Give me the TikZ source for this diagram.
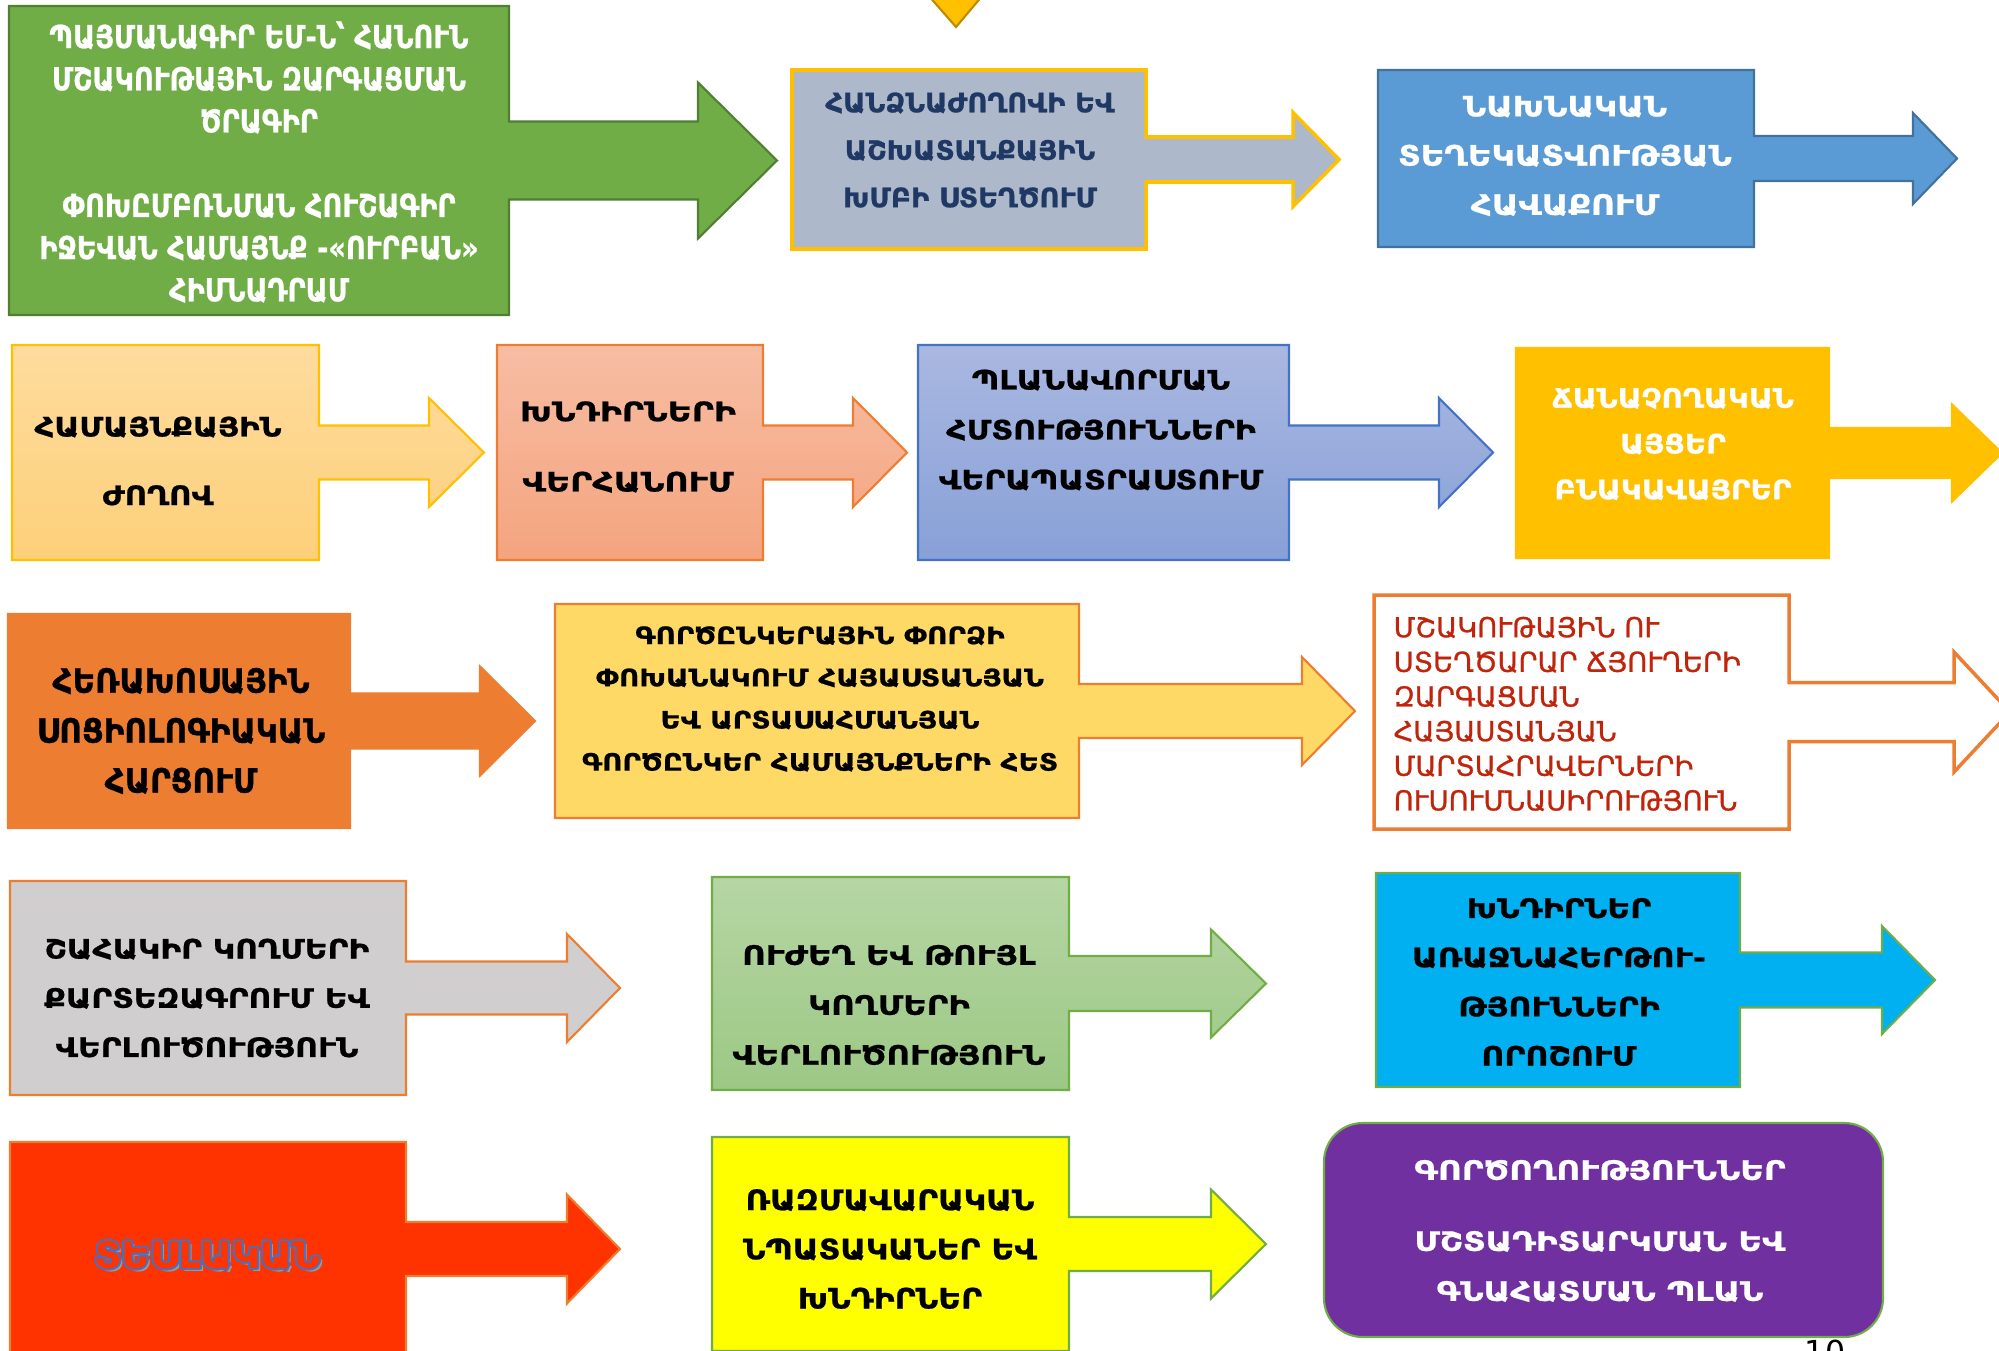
\documentclass[tikz,border=0pt]{standalone}
\usepackage{fontspec}
\newfontfamily\arm{DejaVu Sans}

\definecolor{bxgreen}{HTML}{70AD47}
\definecolor{bxgreenline}{HTML}{507E32}
\definecolor{bxsteel}{HTML}{ADB9CA}
\definecolor{bxgold}{HTML}{FFC000}
\definecolor{bxgoldline}{HTML}{BC8C00}
\definecolor{bxnavy}{HTML}{1F3864}
\definecolor{bxblue}{HTML}{5B9BD5}
\definecolor{bxblueline}{HTML}{41719C}
\definecolor{bxsandtop}{HTML}{FEDC9E}
\definecolor{bxsandbot}{HTML}{FDD07A}
\definecolor{bxsalmtop}{HTML}{F7BDA4}
\definecolor{bxsalmbot}{HTML}{F4A47E}
\definecolor{bxorange}{HTML}{ED7D31}
\definecolor{bxperitop}{HTML}{AAB8E1}
\definecolor{bxperibot}{HTML}{87A0D7}
\definecolor{bxperiline}{HTML}{4472C4}
\definecolor{bxyellow}{HTML}{FFD966}
\definecolor{bxred}{HTML}{C0250C}
\definecolor{bxgrey}{HTML}{D0CECE}
\definecolor{bxmosstop}{HTML}{B6D6A4}
\definecolor{bxmossbot}{HTML}{9CC885}
\definecolor{bxcyan}{HTML}{00B0F0}
\definecolor{bxscarlet}{HTML}{FF3300}
\definecolor{bxlemon}{HTML}{FFFF00}
\definecolor{bxpurple}{HTML}{7030A0}

% box with a right arrow: style, left, top, right, bottom, shaft half, head x, head half, tip x
\newcommand\calloutbox[9]{%
  \pgfmathsetmacro\cmid{(#3+#5)/2}%
  \path[#1] (#2,#3) -- (#4,#3) -- (#4,\cmid-#6) -- (#7,\cmid-#6) -- (#7,\cmid-#8)
    -- (#9,\cmid) -- (#7,\cmid+#8) -- (#7,\cmid+#6) -- (#4,\cmid+#6) -- (#4,#5)
    -- (#2,#5) -- cycle;}

\tikzset{
  calline/.style={line width=0.6pt,line join=miter},
  lbl/.style n args={3}{align=center,inner sep=0pt,
    font=\arm\bfseries\fontsize{#1}{#2}\selectfont\addfontfeatures{FakeStretch=#3,FakeBold=0.8}},
  lblthin/.style n args={3}{align=left,inner sep=0pt,
    font=\arm\fontsize{#1}{#2}\selectfont\addfontfeatures{FakeStretch=#3,FakeBold=1}},
}

\begin{document}
\begin{tikzpicture}[x=0.01cm,y=-0.01cm]
\useasboundingbox (0,0) rectangle (1999,1351);
\clip (0,0) rectangle (1999,1351);

% row 1
\path[calline,fill=bxgold,draw=bxgoldline] (928,-5) -- (956,27) -- (983,-5);
\calloutbox{calline,fill=bxgreen,draw=bxgreenline}{9}{6}{509}{315}{39}{698}{78}{777}
\calloutbox{calline,fill=bxsteel,draw=bxgold,line width=1pt}{792}{70}{1146}{249}{22.5}{1293}{47}{1339}
\calloutbox{calline,fill=bxblue,draw=bxblueline}{1378}{70}{1754}{247}{22.5}{1913}{45.5}{1957}
\node[lbl={9}{12}{0.86},text=white] (b1) at (259,162) {ՊԱՅՄԱՆԱԳԻՐ ԵՄ-Ն՝ ՀԱՆՈՒՆ\\ՄՇԱԿՈՒԹԱՅԻՆ ԶԱՐԳԱՑՄԱՆ\\ԾՐԱԳԻՐ\\[12pt]ՓՈԽԸՄԲՌՆՄԱՆ ՀՈՒՇԱԳԻՐ\\ԻՋԵՎԱՆ ՀԱՄԱՅՆՔ -«ՈՒՐԲԱՆ»\\ՀԻՄՆԱԴՐԱՄ};
\node[lbl={7.6}{13.5}{1.03},text=bxnavy] (b2) at (970,150) {ՀԱՆՁՆԱԺՈՂՈՎԻ ԵՎ\\ԱՇԽԱՏԱՆՔԱՅԻՆ\\ԽՄԲԻ ՍՏԵՂԾՈՒՄ};
\node[lbl={8}{14}{1.16},text=white] (b3) at (1565,156) {ՆԱԽՆԱԿԱՆ\\ՏԵՂԵԿԱՏՎՈՒԹՅԱՆ\\ՀԱՎԱՔՈՒՄ};

% row 2
\calloutbox{calline,top color=bxsandtop,bottom color=bxsandbot,draw=bxgold}{12}{345}{319}{560}{27}{429}{54.5}{484}
\calloutbox{calline,top color=bxsalmtop,bottom color=bxsalmbot,draw=bxorange}{497}{345}{763}{560}{27}{853}{54.5}{907}
\calloutbox{calline,top color=bxperitop,bottom color=bxperibot,draw=bxperiline}{918}{345}{1289}{560}{27}{1439}{54.5}{1493}
\calloutbox{calline,fill=bxgold,draw=bxgold}{1516}{348}{1829}{558}{25}{1952}{48.5}{2002}
\node[lbl={7.6}{19.5}{1.15}] (b4) at (158,461) {ՀԱՄԱՅՆՔԱՅԻՆ\\ԺՈՂՈՎ};
\node[lbl={7.6}{20}{1.24}] (b5) at (628,447) {ԽՆԴԻՐՆԵՐԻ\\ՎԵՐՀԱՆՈՒՄ};
\node[lbl={7.6}{14.2}{1.18}] (b6) at (1101,430) {ՊԼԱՆԱՎՈՐՄԱՆ\\ՀՄՏՈՒԹՅՈՒՆՆԵՐԻ\\ՎԵՐԱՊԱՏՐԱՍՏՈՒՄ};
\node[lbl={7.6}{13}{1.10},text=white] (b7) at (1673,444) {ՃԱՆԱՉՈՂԱԿԱՆ\\ԱՅՑԵՐ\\ԲՆԱԿԱՎԱՅՐԵՐ};

% row 3
\calloutbox{calline,fill=bxorange,draw=bxorange}{8}{614}{350}{828}{27.5}{480}{54.5}{535}
\calloutbox{calline,fill=bxyellow,draw=bxorange}{555}{604}{1079}{818}{27}{1302}{54}{1355}
\calloutbox{calline,fill=white,draw=bxorange,line width=1pt}{1374}{595}{1789}{829}{29.5}{1954}{60}{2010}
\node[lbl={9.5}{14.2}{0.93}] (b8) at (181,731) {ՀԵՌԱԽՈՍԱՅԻՆ\\ՍՈՑԻՈԼՈԳԻԱԿԱՆ\\ՀԱՐՑՈՒՄ};
\node[lbl={6.8}{12}{1.16}] (b9) at (820,699) {ԳՈՐԾԸՆԿԵՐԱՅԻՆ ՓՈՐՁԻ\\ՓՈԽԱՆԱԿՈՒՄ ՀԱՅԱՍՏԱՆՅԱՆ\\ԵՎ ԱՐՏԱՍԱՀՄԱՆՅԱՆ\\ԳՈՐԾԸՆԿԵՐ ՀԱՄԱՅՆՔՆԵՐԻ ՀԵՏ};
\node[lblthin={7.8}{9.85}{1.0},text=bxred,anchor=west] (b10) at (1393,714) {ՄՇԱԿՈՒԹԱՅԻՆ ՈՒ\\ՍՏԵՂԾԱՐԱՐ ՃՅՈՒՂԵՐԻ\\ԶԱՐԳԱՑՄԱՆ\\ՀԱՅԱՍՏԱՆՅԱՆ\\ՄԱՐՏԱՀՐԱՎԵՐՆԵՐԻ\\ՈՒՍՈՒՄՆԱՍԻՐՈՒԹՅՈՒՆ};

% row 4
\calloutbox{calline,fill=bxgrey,draw=bxorange}{10}{881}{406}{1095}{26.5}{567}{54}{620}
\calloutbox{calline,top color=bxmosstop,bottom color=bxmossbot,draw=bxgreen}{712}{877}{1069}{1090}{27.5}{1211}{54}{1266}
\calloutbox{calline,fill=bxcyan,draw=bxgreen}{1376}{873}{1740}{1087}{27.5}{1882}{54}{1935}
\node[lbl={7.6}{14}{1.17}] (b11) at (207,998) {ՇԱՀԱԿԻՐ ԿՈՂՄԵՐԻ\\ՔԱՐՏԵԶԱԳՐՈՒՄ ԵՎ\\ՎԵՐԼՈՒԾՈՒԹՅՈՒՆ};
\node[lbl={7.6}{14.2}{1.21}] (b12) at (889,1005) {ՈՒԺԵՂ ԵՎ ԹՈՒՅԼ\\ԿՈՂՄԵՐԻ\\ՎԵՐԼՈՒԾՈՒԹՅՈՒՆ};
\node[lbl={7.6}{14}{1.18}] (b13) at (1559,982) {ԽՆԴԻՐՆԵՐ\\ԱՌԱՋՆԱՀԵՐԹՈՒ-\\ԹՅՈՒՆՆԵՐԻ\\ՈՐՈՇՈՒՄ};

% row 5
\node[font=\arm\fontsize{9}{10}\selectfont] (pg) at (1825,1352) {10};
\calloutbox{calline,fill=bxscarlet,draw=bxorange}{10}{1142}{406}{1356}{27}{567}{54.5}{620}
\calloutbox{calline,fill=bxlemon,draw=bxgreen}{712}{1137}{1069}{1351}{27}{1211}{54.5}{1266}
\path[calline,fill=bxpurple,draw=bxgreen,rounded corners=11pt] (1324,1123) rectangle (1883,1337);
\node[lbl={10.3}{11}{1.08},text=black!40] (t0) at (210,1258) {ՏԵՍԼԱԿԱՆ};
\foreach \a in {0,30,...,330}
  \node[lbl={10.3}{11}{1.08},text=bxperiline,xshift={0.55pt*cos(\a)},yshift={0.55pt*sin(\a)}] (t\a) at (207,1255) {ՏԵՍԼԱԿԱՆ};
\node[lbl={10.3}{11}{1.08},text=bxscarlet] (b14) at (207,1255) {ՏԵՍԼԱԿԱՆ};
\node[lbl={8}{14}{1.12}] (b15) at (890,1249) {ՌԱԶՄԱՎԱՐԱԿԱՆ\\ՆՊԱՏԱԿԱՆԵՐ ԵՎ\\ԽՆԴԻՐՆԵՐ};
\node[lbl={7.6}{14.2}{1.22},text=white] (b16) at (1600,1231) {ԳՈՐԾՈՂՈՒԹՅՈՒՆՆԵՐ\\[6pt]ՄՇՏԱԴԻՏԱՐԿՄԱՆ ԵՎ\\ԳՆԱՀԱՏՄԱՆ ՊԼԱՆ};
\end{tikzpicture}
\end{document}
